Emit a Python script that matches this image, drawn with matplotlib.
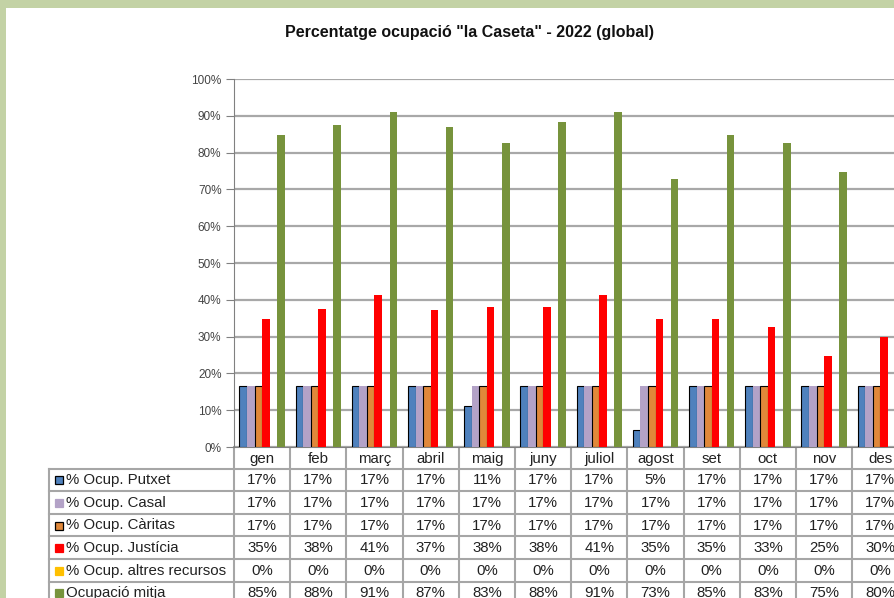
import numpy as np
import matplotlib
matplotlib.use('Agg')
from matplotlib import pyplot as plt
from matplotlib.patches import Rectangle

plt.rcParams['font.family'] = ['Liberation Sans', 'DejaVu Sans']

# data
months = ['gen', 'feb', 'març', 'abril', 'maig', 'juny', 'juliol', 'agost', 'set', 'oct', 'nov', 'des']
series_names = ['% Ocup. Putxet', '% Ocup. Casal', '% Ocup. Càritas', '% Ocup. Justícia',
                '% Ocup. altres recursos', 'Ocupació mitja']
putxet = [16.7, 16.7, 16.7, 16.7, 11.1, 16.7, 16.7, 4.6, 16.7, 16.7, 16.7, 16.7]
casal = [16.7] * 12
caritas = [16.7] * 12
justicia = [34.9, 37.6, 41.4, 37.1, 38.1, 38.1, 41.4, 34.9, 34.9, 32.7, 24.8, 30.0]
altres = [0] * 12
mitja = [84.7, 87.5, 90.9, 87.0, 82.6, 88.3, 90.9, 72.9, 84.7, 82.6, 74.6, 80.0]
series = [putxet, casal, caritas, justicia, altres, mitja]

colors = ['#4f81bd', '#b3a2c7', '#e0883a', '#ff0000', '#ffc000', '#77933c']
edges = ['black', 'none', 'black', 'none', 'none', 'none']

W, H = 895, 598
fig = plt.figure(figsize=(W / 100, H / 100), dpi=100)
fig.patch.set_facecolor('#c3d2a5')
fig.add_artist(Rectangle((6 / W, 0), 1, (H - 8) / H, transform=fig.transFigure,
                         facecolor='white', edgecolor='none', zorder=0))

# overlay in pixel coords for the data table
tab = fig.add_axes([0, 0, 1, 1], zorder=1)
tab.set_xlim(0, W)
tab.set_ylim(H, 0)
tab.axis('off')
tab.patch.set_alpha(0)

ax_left, ax_top, ax_bot = 234, 79, 447
ncol_px = 56.2 * 12
ax = fig.add_axes([ax_left / W, (H - ax_bot) / H, ncol_px / W, (ax_bot - ax_top) / H], zorder=2)
ax.patch.set_alpha(0)

x = np.arange(len(months))
w = 0.135
for i, vals in enumerate(series):
    ax.bar(x + (i - 2.5) * w, vals, w, color=colors[i], edgecolor=edges[i],
           linewidth=0.8, zorder=3)

ax.set_xlim(-0.5, 11.5)
ax.set_ylim(0, 100)
ax.set_yticks(np.arange(0, 101, 10))
ax.set_yticklabels([f'{v}%' for v in range(0, 101, 10)], fontsize=8.5, color='#444444')
ax.yaxis.grid(True, color='#a8a8a8', linewidth=1.6, zorder=0)
ax.set_axisbelow(True)
ax.set_xticks([])
ax.tick_params(axis='y', length=6, color='#808080', pad=3)
for s in ['top', 'right']:
    ax.spines[s].set_visible(False)
ax.spines['left'].set_color('#808080')
ax.spines['bottom'].set_color('#808080')

fig.text(470 / W, 1 - 33 / H, 'Percentatge ocupació "la Caseta" - 2022 (global)',
         ha='center', va='center', fontsize=11.5, fontweight='bold', color='#111111')

# table geometry from the axes scale
fig.canvas.draw()
def col_px(xv):
    return ax.transData.transform((xv, 0))[0]

bounds = [col_px(b) for b in np.arange(-0.5, 12.0, 1.0)]
centers = [col_px(c) for c in x]
lab_left = 49
head_top = ax_bot
row_top = 468.5
row_h = 22.6
line_kw = dict(color='#a6a6a6', linewidth=1.5, zorder=1)
fs = 10.8

# header row
for b in bounds:
    tab.plot([b, b], [head_top, H + 5], **line_kw)
tab.plot([lab_left, lab_left], [row_top, H + 5], **line_kw)
for r in range(7):
    y = row_top + r * row_h
    tab.plot([lab_left, W + 20], [y, y], **line_kw)
for m, c in zip(months, centers):
    tab.text(c, (head_top + row_top) / 2 + 1, m, ha='center', va='center', fontsize=fs, color='#222222')

for r, (name, vals) in enumerate(zip(series_names, series)):
    yc = row_top + (r + 0.5) * row_h + 0.5
    tab.add_patch(Rectangle((55, yc - 4), 8, 8, facecolor=colors[r],
                            edgecolor=edges[r] if edges[r] != 'none' else colors[r],
                            linewidth=0.9, zorder=2))
    tab.text(66, yc, name, ha='left', va='center', fontsize=fs, color='#222222')
    for v, c in zip(vals, centers):
        tab.text(c, yc, f'{round(v)}%', ha='center', va='center', fontsize=fs, color='#222222')

fig.savefig('out.png', dpi=100, facecolor=fig.get_facecolor())
